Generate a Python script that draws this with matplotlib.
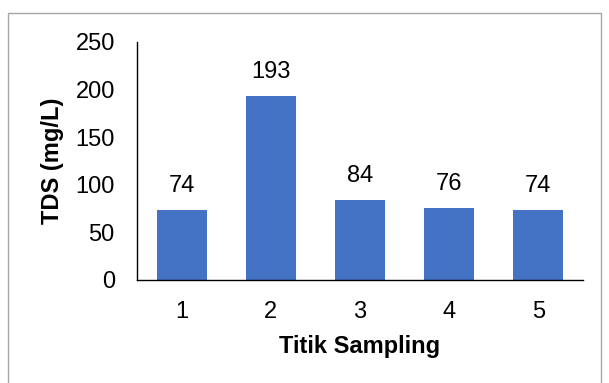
import matplotlib.pyplot as plt
from matplotlib.patches import Rectangle

titik = ["1", "2", "3", "4", "5"]
tds = [74, 193, 84, 76, 74]
y_ticks = [0, 50, 100, 150, 200, 250]

plt.rcParams['font.family'] = ['Liberation Sans', 'DejaVu Sans']

W, H = 609, 383
fig = plt.figure(figsize=(W / 100, H / 100), dpi=100)
fig.patches.append(Rectangle((8 / W, -0.1), (601 - 8) / W, 1.1 - 13 / H,
                             transform=fig.transFigure, fill=False,
                             edgecolor="#a6a6a6", linewidth=1))

ax = fig.add_axes([137 / W, 1 - 280 / H, (583 - 137) / W, (280 - 42) / H])
x = range(len(titik))
bars = ax.bar(x, tds, width=0.56, color="#4472C4")
for xi, v in zip(x, tds):
    ax.text(xi, v + 25, str(v), ha="center", va="center", fontsize=17)

ax.set_xlim(-0.5, len(titik) - 0.5)
ax.set_ylim(0, 250)
ax.set_xticks(list(x))
ax.set_xticklabels(titik)
ax.set_yticks(y_ticks)
ax.tick_params(axis="both", length=0, labelsize=17)
ax.tick_params(axis="x", pad=15)
ax.tick_params(axis="y", pad=16)
for s in ["top", "right"]:
    ax.spines[s].set_visible(False)
ax.spines["left"].set_linewidth(1)
ax.spines["bottom"].set_linewidth(1)
ax.set_xlabel("Titik Sampling", fontsize=17, fontweight="bold", labelpad=9)
ax.set_ylabel("TDS (mg/L)", fontsize=17, fontweight="bold", labelpad=8)

fig.savefig("out.png", dpi=100)
